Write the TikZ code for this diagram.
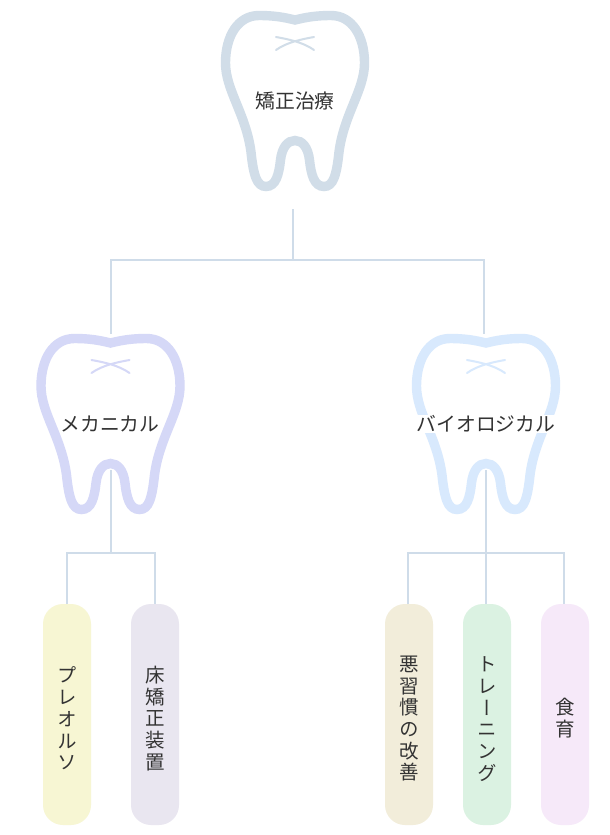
\documentclass[tikz,border=0pt]{standalone}
\usepackage{fontspec}
\newfontfamily\jpfont{Noto Sans CJK JP}
\newfontfamily\jpvert[RawFeature=+vert]{Noto Sans CJK JP}
\newcommand{\pilltop}{\rule{0pt}{24pt}}
\definecolor{linkcol}{HTML}{CFDCE9}
\definecolor{toothroot}{HTML}{D1DDE8}
\definecolor{toothmech}{HTML}{D5D8F7}
\definecolor{toothbio}{HTML}{D8E9FD}
\definecolor{pillyellow}{HTML}{F7F6D3}
\definecolor{pillgrey}{HTML}{E9E6F0}
\definecolor{pillsand}{HTML}{F2EDDA}
\definecolor{pillgreen}{HTML}{DBF2E2}
\definecolor{pillpink}{HTML}{F6E9F9}
\definecolor{textcol}{HTML}{333333}
\tikzset{
	tooth/.pic={
		\path[pic actions, line width=9.4pt]
			(0,20) .. controls (12,17) and (22,15.5) .. (36,15.5)
			.. controls (57,15.5) and (69.5,36) .. (69.5,63)
			.. controls (69.5,90) and (49,114) .. (44,152)
			.. controls (41.5,176) and (38,186.5) .. (29,186.5)
			.. controls (19,186.5) and (16,174) .. (14.5,160)
			.. controls (13,147) and (7,140.5) .. (0,140.5)
			.. controls (-7,140.5) and (-13,147) .. (-14.5,160)
			.. controls (-16,174) and (-19,186.5) .. (-29,186.5)
			.. controls (-38,186.5) and (-41.5,176) .. (-44,152)
			.. controls (-49,114) and (-69.5,90) .. (-69.5,63)
			.. controls (-69.5,36) and (-57,15.5) .. (-36,15.5)
			.. controls (-22,15.5) and (-12,17) .. cycle;
		\path[pic actions, line width=2pt, line cap=round]
			(-19,37) .. controls (-8,39) and (8,42) .. (19,50)
			(-19,50) .. controls (-8,42) and (8,39) .. (19,37);
	},
	link/.style={draw=linkcol, line width=2pt},
	toothlabel/.style={font=\jpfont\fontsize{19.8}{22}\selectfont, text=textcol, fill=white, inner sep=0.5pt},
	pill/.style={minimum width=48pt, minimum height=221pt, rounded corners=20pt, inner sep=0pt, align=center,
		text=textcol, font=\jpvert\fontsize{19.5}{21.7}\selectfont}
}
\begin{document}
\begin{tikzpicture}[x=1pt, y=-1pt]
	\useasboundingbox (0,0) rectangle (610,835);
	\fill[white] (0,0) rectangle (610,835);
	% teeth
	\pic[draw=toothroot] at (295,0) {tooth};
	\pic[draw=toothmech] at (110.5,323) {tooth};
	\pic[draw=toothbio] at (486,323) {tooth};
	% labels
	\node[toothlabel] (root) at (295,101) {矯正治療};
	\node[toothlabel] (mech) at (110,424) {メカニカル};
	\node[toothlabel] (bio) at (486,424) {バイオロジカル};
	% pills
	\node[pill, fill=pillyellow] (preortho) at (67,714.5) {\pilltop プ\\レ\\オ\\ル\\ソ};
	\node[pill, fill=pillgrey] (plate) at (155,714.5) {\pilltop 床\\矯\\正\\装\\置};
	\node[pill, fill=pillsand] (habit) at (409,714.5) {\pilltop 悪\\習\\慣\\の\\改\\善};
	\node[pill, fill=pillgreen] (training) at (487,714.5) {\pilltop ト\\レ\\ー\\ニ\\ン\\グ};
	\node[pill, fill=pillpink] (food) at (565,714.5) {\pilltop 食\\育};
	% joints
	\coordinate (rootstem) at (293,209);
	\coordinate (rootbar) at (293,260);
	\coordinate (mechin) at (111,334);
	\coordinate (bioin) at (484,334);
	\coordinate (mechstem) at (111,470);
	\coordinate (mechbar) at (111,553);
	\coordinate (biostem) at (486,470);
	\coordinate (biobar) at (486,553);
	\coordinate (habitin) at (408,604);
	\coordinate (trainingin) at (486,604);
	\coordinate (foodin) at (564,604);
	\coordinate (preorthoin) at (67,604);
	\coordinate (platein) at (155,604);
	% connectors
	\draw[link] (rootstem) -- (rootbar);
	\draw[link] (mechin) |- (rootbar) -| (bioin);
	\draw[link] (mechstem) -- (mechbar);
	\draw[link] (preorthoin) |- (mechbar) -| (platein);
	\draw[link] (biostem) -- (trainingin);
	\draw[link] (habitin) |- (biobar) -| (foodin);
\end{tikzpicture}
\end{document}
